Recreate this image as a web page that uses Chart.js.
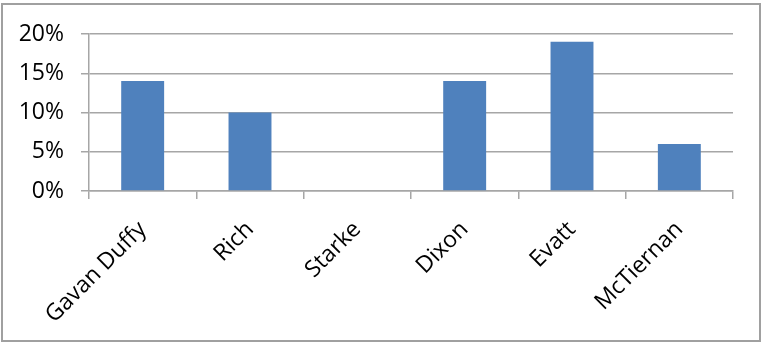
<!DOCTYPE html>
<html>
<head>
<meta charset="utf-8">
<script src="https://cdn.jsdelivr.net/npm/chart.js@4/dist/chart.umd.min.js"></script>
<style>
  html, body { margin: 0; padding: 0; background: #fff; }
  #wrap { width: 762px; height: 343px; position: relative; }
</style>
</head>
<body>
<div id="wrap"><canvas id="myChart"></canvas></div>
<script>
// categories and values (percent)
const judges = ['Gavan Duffy', 'Rich', 'Starke', 'Dixon', 'Evatt', 'McTiernan'];
const shares = [14, 10, 0, 14, 19, 6];
const yTicks = [0, 5, 10, 15, 20];

// outer frame like the spreadsheet chart area
const framePlugin = {
	id: 'frame',
	beforeDraw(chart) {
		const c = chart.ctx;
		c.save();
		c.fillStyle = '#ffffff';
		c.fillRect(0, 0, chart.width, chart.height);
		c.strokeStyle = '#a0a0a0';
		c.lineWidth = 2;
		c.strokeRect(2, 4, 758, 337);
		c.restore();
	}
};

const ctx = document.getElementById('myChart').getContext('2d');
const myChart = new Chart(ctx, {
	type: 'bar',
	data: {
		labels: judges,
		datasets: [
			{
				label: 'Share',
				data: shares,
				backgroundColor: '#4f81bd',
				borderWidth: 0,
				categoryPercentage: 1,
				barPercentage: 0.4
			}
		]
	},
	options: {
		responsive: true,
		maintainAspectRatio: false,
		animation: false,
		layout: {
			padding: { left: 0, top: 34, right: 29, bottom: 0 }
		},
		plugins: {
			legend: { display: false },
			tooltip: { enabled: false }
		},
		scales: {
			x: {
				afterFit: (scale) => { scale.height = 152; },
				grid: {
					offset: true,
					drawOnChartArea: false,
					drawTicks: true,
					tickLength: 8,
					color: '#a6a6a6',
					lineWidth: 1.5
				},
				border: { display: true, color: '#a6a6a6', width: 1.5 },
				ticks: {
					minRotation: 45,
					maxRotation: 45,
					padding: 17,
					color: '#000',
					font: { family: 'Open Sans', size: 23 }
				}
			},
			y: {
				min: 0,
				max: 20,
				afterFit: (scale) => { scale.width = 89; },
				afterBuildTicks: (scale) => {
					scale.ticks = yTicks.map((v) => ({ value: v }));
				},
				grid: {
					color: '#a6a6a6',
					lineWidth: 1.5,
					tickLength: 8
				},
				border: { display: true, color: '#a6a6a6', width: 1.5 },
				ticks: {
					padding: 17,
					color: '#000',
					font: { family: 'Open Sans', size: 23 },
					callback: (v) => v + '%'
				}
			}
		}
	},
	plugins: [framePlugin]
});
</script>
</body>
</html>
